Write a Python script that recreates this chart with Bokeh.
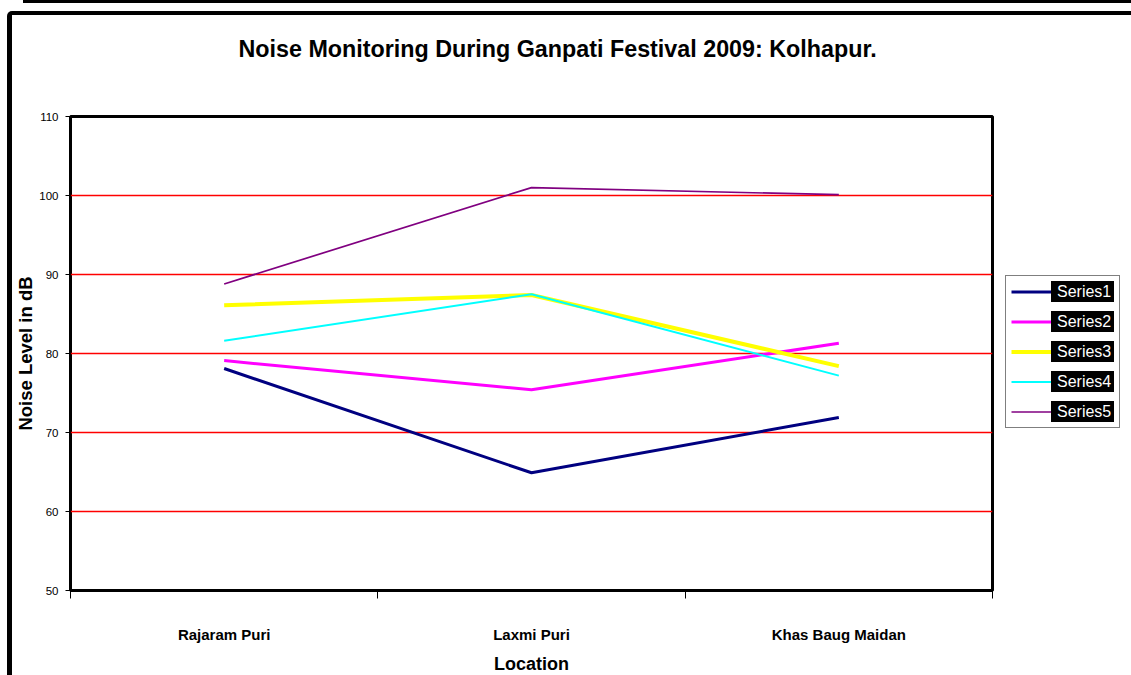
from bokeh.plotting import figure
from bokeh.layouts import column, row
from bokeh.models import Range1d, FixedTicker, Legend, LegendItem, Div
from bokeh.embed import file_html
from bokeh.resources import INLINE

# ---- data -------------------------------------------------------------
categories = ["Rajaram Puri", "Laxmi Puri", "Khas Baug Maidan"]
series_names = ["Series1", "Series2", "Series3", "Series4", "Series5"]
series1 = [78.1, 64.9, 71.9]
series2 = [79.1, 75.4, 81.3]
series3 = [86.1, 87.4, 78.4]
series4 = [81.6, 87.5, 77.2]
series5 = [88.8, 101.0, 100.1]
y_ticks = [50, 60, 70, 80, 90, 100, 110]
title_text = "Noise Monitoring During Ganpati Festival 2009: Kolhapur."
x_title = "Location"
y_title = "Noise Level in dB"

# ---- style ------------------------------------------------------------
FONT = "Liberation Sans"
colors = ["#000080", "#FF00FF", "#FFFF00", "#00FFFF", "#800080"]
widths = [3, 3, 4, 2, 1.7]
all_series = [series1, series2, series3, series4, series5]
n = len(categories)

# ---- title strip (a figure whose only content is its title) -----------
TITLE_H = 70
tf = figure(width=1119, height=TITLE_H, output_backend="svg", toolbar_location=None,
            x_axis_type=None, y_axis_type=None, min_border=0,
            background_fill_color="white", border_fill_color="white")
tf.outline_line_color = None
tf.grid.visible = False
tf.title.text = title_text
tf.title.align = "left"
tf.title.offset = 168
tf.title.standoff = 37
tf.title.text_font = FONT
tf.title.text_font_size = "23.3px"
tf.title.text_font_style = "bold"
tf.title.text_color = "black"

# ---- main chart -------------------------------------------------------
p = figure(frame_width=922, frame_height=474, output_backend="svg",
           toolbar_location=None,
           x_range=Range1d(0, n), y_range=Range1d(y_ticks[0], y_ticks[-1]),
           min_border_left=58, min_border_right=139,
           min_border_top=101 - TITLE_H, min_border_bottom=85,
           background_fill_color="white", border_fill_color="white")
p.outline_line_color = "black"
p.outline_line_width = 3
p.title.visible = False

# grid
p.xgrid.visible = False
p.ygrid.grid_line_color = "#FF0000"
p.ygrid.grid_line_width = 1.5

# y axis
ya = p.left[0]
ya.ticker = FixedTicker(ticks=y_ticks, minor_ticks=[])
ya.axis_line_color = None
ya.major_tick_out = 5
ya.major_tick_in = 0
ya.major_tick_line_color = "black"
ya.major_label_standoff = 7
ya.major_label_text_font = FONT
ya.major_label_text_font_size = "11.5px"
ya.major_label_text_color = "black"
ya.axis_label = y_title
ya.axis_label_text_font = FONT
ya.axis_label_text_font_size = "18.5px"
ya.axis_label_text_font_style = "bold"
ya.axis_label_text_color = "black"
ya.axis_label_standoff = 0

# x axis: labels at category centres, tick marks at category boundaries
xs = [i + 0.5 for i in range(n)]
xa = p.below[0]
xa.ticker = FixedTicker(ticks=xs, minor_ticks=list(range(n + 1)))
xa.major_label_overrides = {x: c for x, c in zip(xs, categories)}
xa.axis_line_color = None
xa.major_tick_out = 0
xa.major_tick_in = 0
xa.minor_tick_out = 8
xa.minor_tick_in = 0
xa.minor_tick_line_color = "black"
xa.major_label_standoff = 27
xa.major_label_text_font = FONT
xa.major_label_text_font_size = "15px"
xa.major_label_text_font_style = "bold"
xa.major_label_text_color = "black"
xa.axis_label = x_title
xa.axis_label_text_font = FONT
xa.axis_label_text_font_size = "18px"
xa.axis_label_text_font_style = "bold"
xa.axis_label_text_color = "black"
xa.axis_label_standoff = 8

# lines
renderers = []
for vals, c, w in zip(all_series, colors, widths):
    r = p.line(x=xs, y=vals, line_color=c, line_width=w)
    renderers.append(r)

# hidden white mask: paints the legend's glyph area white
# (the label area keeps the black item background)
mask = p.quad(left=[0], right=[0], top=[0], bottom=[0], fill_color="white",
              line_color="white", line_width=14, line_join="miter", visible=False)

legend = Legend(items=[LegendItem(label=nm, renderers=[mask, r])
                       for nm, r in zip(series_names, renderers)],
                location=(13, 162), margin=0, padding=5, spacing=9,
                glyph_width=40, glyph_height=21, label_height=21, label_width=57,
                label_standoff=6, border_line_color="black", border_line_width=1,
                background_fill_color="white", background_fill_alpha=1,
                label_text_font=FONT, label_text_font_size="16px",
                label_text_color="white",
                item_background_policy="every",
                item_background_fill_color="black", item_background_fill_alpha=1)
p.add_layout(legend, "right")

# spreadsheet gridline above the chart, and the chart area's thick border
strip = Div(text="", width=1108, height=3, margin=(0, 0, 0, 23),
            styles={"background-color": "black"})
top_border = Div(text="", width=1119, height=4, margin=(0, 0, 0, 0),
                 styles={"background-color": "black"})
left_border = Div(text="", width=5, height=664, margin=(0, 0, 0, 0),
                  styles={"background-color": "black",
                          "border-top-left-radius": "5px"})

body = row(left_border, column(top_border, tf, p, spacing=0), spacing=0,
           margin=(8, 0, 0, 7))
layout = column(strip, body, spacing=0)
open("out.html", "w").write(file_html(layout, INLINE))
